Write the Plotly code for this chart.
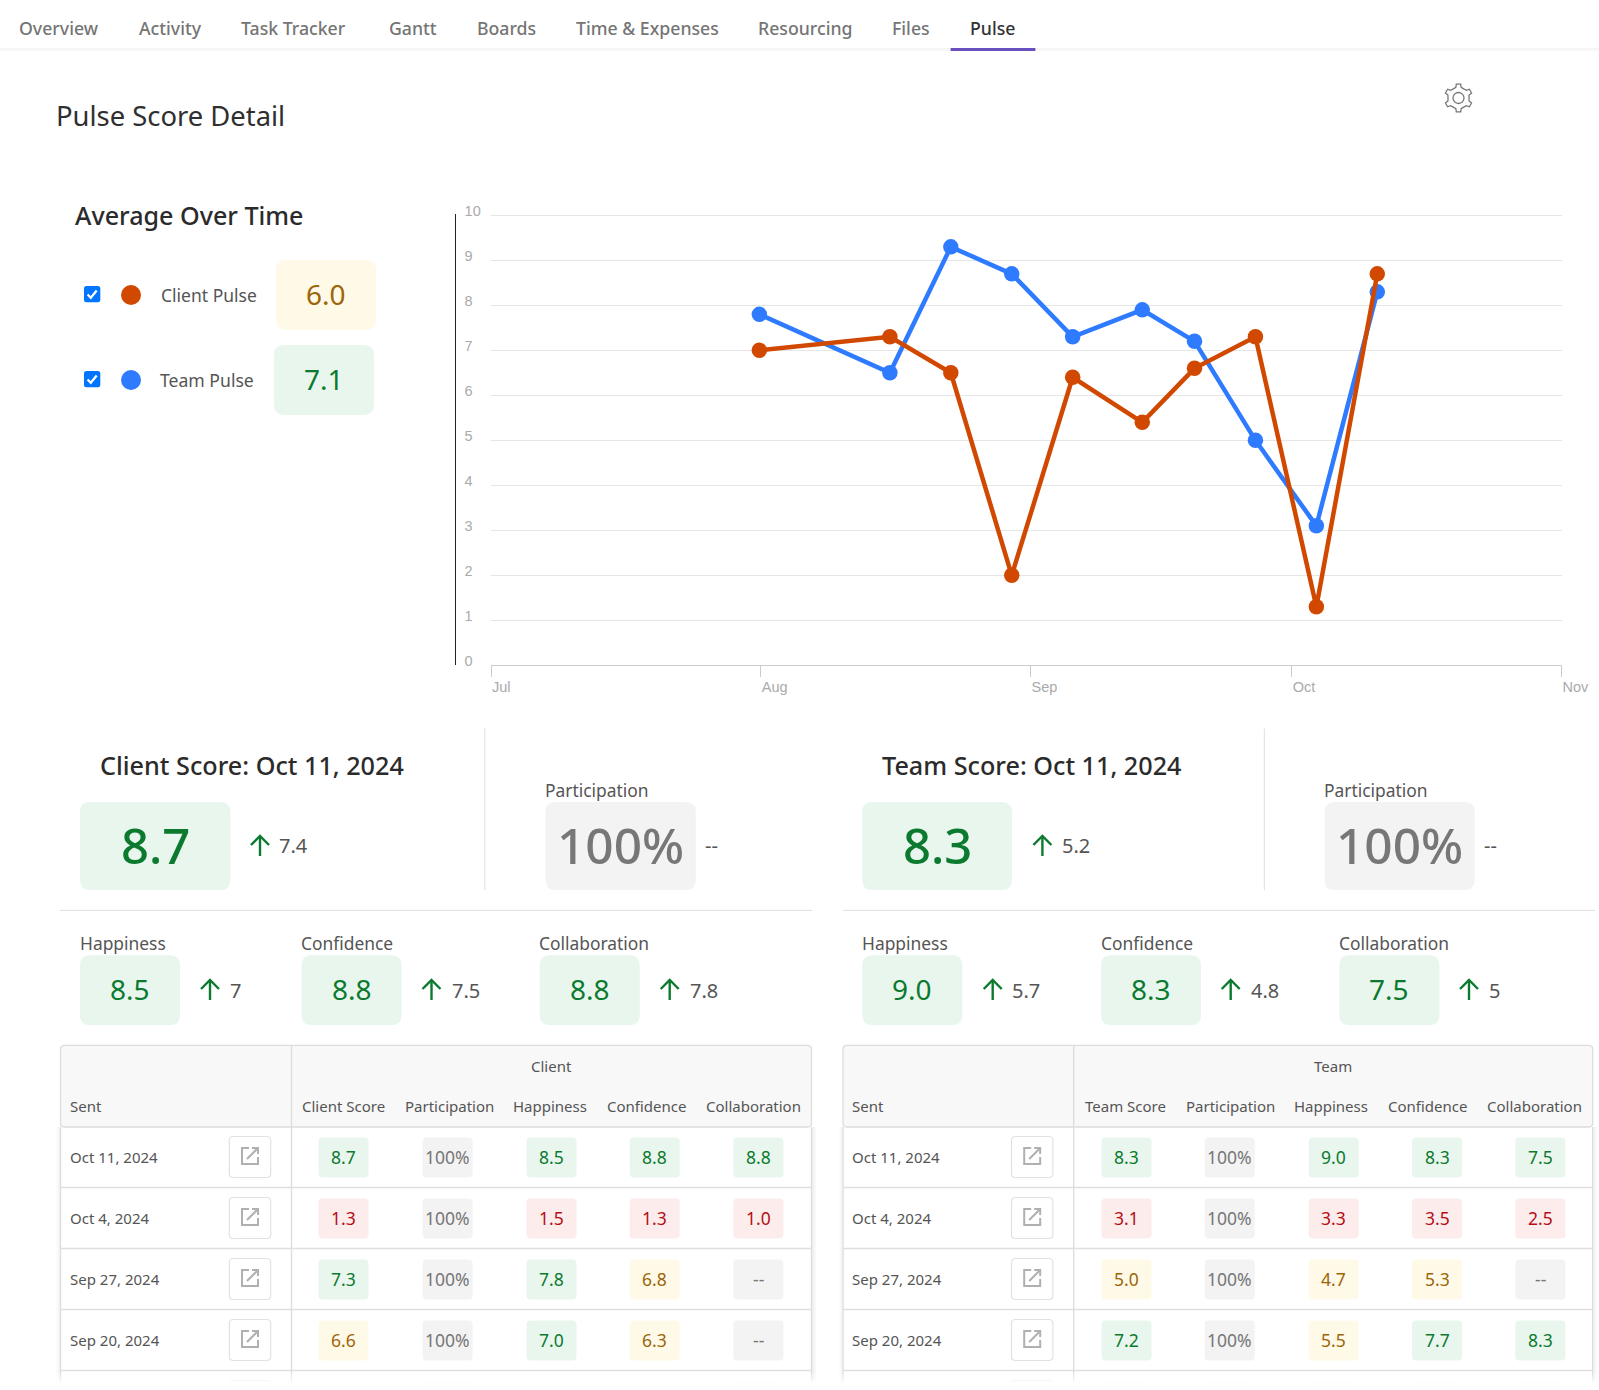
import math

import plotly.graph_objects as go

W = 1599
H = 1390
FONT = "Noto Sans"

# chart data (points sit a few hours before midnight of the send date)
pulse_dates = ["2024-07-31 20:00", "2024-08-15 20:00", "2024-08-22 20:00", "2024-08-29 20:00",
               "2024-09-05 20:00", "2024-09-13 20:00", "2024-09-19 20:00", "2024-09-26 20:00",
               "2024-10-03 20:00", "2024-10-10 20:00"]
team_pulse = [7.8, 6.5, 9.3, 8.7, 7.3, 7.9, 7.2, 5.0, 3.1, 8.3]
client_pulse = [7.0, 7.3, 6.5, 2.0, 6.4, 5.4, 6.6, 7.3, 1.3, 8.7]
y_ticks = [0, 1, 2, 3, 4, 5, 6, 7, 8, 9, 10]

tabs = ["Overview", "Activity", "Task Tracker", "Gantt", "Boards",
        "Time & Expenses", "Resourcing", "Files", "Pulse"]
tab_x = [19.4, 138.9, 241, 389, 476.9, 575.9, 758.7, 892.4, 970]

# averages
client_average = 6.0
team_average = 7.1

# score cards
client_score = (8.7, 7.4)
team_score = (8.3, 5.2)
client_parts = [("Happiness", 8.5, "7"), ("Confidence", 8.8, "7.5"), ("Collaboration", 8.8, "7.8")]
team_parts = [("Happiness", 9.0, "5.7"), ("Confidence", 8.3, "4.8"), ("Collaboration", 7.5, "5")]

# tables
sent_dates = ["Oct 11, 2024", "Oct 4, 2024", "Sep 27, 2024", "Sep 20, 2024"]
client_rows = [
    ["8.7", "100%", "8.5", "8.8", "8.8"],
    ["1.3", "100%", "1.5", "1.3", "1.0"],
    ["7.3", "100%", "7.8", "6.8", "--"],
    ["6.6", "100%", "7.0", "6.3", "--"],
]
team_rows = [
    ["8.3", "100%", "9.0", "8.3", "7.5"],
    ["3.1", "100%", "3.3", "3.5", "2.5"],
    ["5.0", "100%", "4.7", "5.3", "--"],
    ["7.2", "100%", "5.5", "7.7", "8.3"],
]
client_columns = ["Client Score", "Participation", "Happiness", "Confidence", "Collaboration"]
team_columns = ["Team Score", "Participation", "Happiness", "Confidence", "Collaboration"]
# only the tops of the next row are visible, so just their colours are known
client_next_row = ["yellow", "gray", "yellow", "yellow", "gray"]
team_next_row = ["green", "green", "green", "green", "green"]

COLORS = {
    "green": ("#e9f6ee", "#0b7a2e"),
    "yellow": ("#fff9e8", "#9c6508"),
    "red": ("#fcecec", "#b40f17"),
    "gray": ("#f3f3f3", "#777777"),
}
ORANGE = "#d14900"
BLUE = "#2f7bff"
TEXT = "#555555"
LINE = "#dfdfdf"

shapes = []
notes = []


def px(x):
    return x / W


def py(y):
    return 1 - y / H


def band(value):
    try:
        v = float(value)
    except ValueError:
        return "gray"
    if v >= 7:
        return "green"
    if v >= 4:
        return "yellow"
    return "red"


def text(x, y, s, size=15, color=TEXT, anchor="left", weight=400):
    # small nudge: annotation boxes sit a little low and right of the measured spots
    x = x - (1.4 if anchor == "left" else 0)
    notes.append(dict(x=px(x), y=py(y - 1), xref="paper", yref="paper", text=s, showarrow=False,
                      xanchor=anchor, yanchor="middle", borderpad=0,
                      font=dict(family=FONT, size=size, color=color, weight=weight)))


def path_shape(d, fill=None, line=None, width=1, layer="below"):
    s = dict(type="path", path=d, xref="paper", yref="paper", layer=layer,
             line=dict(color=line or "rgba(0,0,0,0)", width=width if line else 0))
    if fill:
        s["fillcolor"] = fill
    shapes.append(s)


def pt(x, y):
    return f"{px(x):.6f},{py(y):.6f}"


def round_rect(x0, y0, x1, y1, r, fill=None, line=None, width=1, layer="below"):
    d = (f"M{pt(x0 + r, y0)} L{pt(x1 - r, y0)} Q{pt(x1, y0)} {pt(x1, y0 + r)} "
         f"L{pt(x1, y1 - r)} Q{pt(x1, y1)} {pt(x1 - r, y1)} L{pt(x0 + r, y1)} "
         f"Q{pt(x0, y1)} {pt(x0, y1 - r)} L{pt(x0, y0 + r)} Q{pt(x0, y0)} {pt(x0 + r, y0)} Z")
    path_shape(d, fill, line, width, layer)


def seg(x0, y0, x1, y1, color=LINE, width=1, layer="below"):
    shapes.append(dict(type="line", x0=px(x0), x1=px(x1), y0=py(y0), y1=py(y1), xref="paper",
                       yref="paper", layer=layer, line=dict(color=color, width=width)))


def rect(x0, y0, x1, y1, fill, layer="below"):
    shapes.append(dict(type="rect", x0=px(x0), x1=px(x1), y0=py(y0), y1=py(y1), xref="paper",
                       yref="paper", layer=layer, fillcolor=fill, line=dict(width=0)))


def circle(cx, cy, r, fill=None, line=None, width=1):
    shapes.append(dict(type="circle", x0=px(cx - r), x1=px(cx + r), y0=py(cy - r), y1=py(cy + r),
                       xref="paper", yref="paper", layer="below", fillcolor=fill or "rgba(0,0,0,0)",
                       line=dict(color=line or "rgba(0,0,0,0)", width=width if line else 0)))


def badge(x0, y0, w, h, value, size, radius=10, weight=400):
    bg, fg = COLORS[band(value)]
    round_rect(x0, y0, x0 + w, y0 + h, radius, fill=bg)
    text(x0 + w / 2, y0 + h / 2, value, size=size, color=fg, anchor="center", weight=weight)


def up_arrow(x, y0, y1):
    green = COLORS["green"][1]
    seg(x, y0, x, y1, green, 2.4)
    path_shape(f"M{pt(x - 9, y0 + 9)} L{pt(x, y0)} L{pt(x + 9, y0 + 9)}", line=green, width=2.4)


def link_icon(cx, cy):
    c = "#b0b0b0"
    path_shape(f"M{pt(cx - 1, cy - 8)} L{pt(cx - 8, cy - 8)} L{pt(cx - 8, cy + 8)} L{pt(cx + 8, cy + 8)} "
               f"L{pt(cx + 8, cy + 1)}", line=c, width=2)
    path_shape(f"M{pt(cx - 3, cy + 3)} L{pt(cx + 8, cy - 8)}", line=c, width=2)
    path_shape(f"M{pt(cx + 2, cy - 8)} L{pt(cx + 8, cy - 8)} L{pt(cx + 8, cy - 2)}", line=c, width=2)


def gear(cx, cy):
    points = []
    for i in range(6):
        a = math.radians(60 * i - 90)
        for da, r in [(-30, 10.5), (-14, 11), (-9, 14), (9, 14), (14, 11)]:
            b = a + math.radians(da)
            points.append(pt(cx + r * math.cos(b), cy + r * math.sin(b)))
    path_shape("M" + " L".join(points) + " Z", line="#777777", width=1.3)
    circle(cx, cy, 5.5, line="#777777", width=1.3)


def checkbox(x, y):
    round_rect(x, y, x + 16.3, y + 16.3, 2.5, fill="#0075ff")
    path_shape(f"M{pt(x + 3.6, y + 8.5)} L{pt(x + 6.8, y + 11.8)} L{pt(x + 12.7, y + 4.6)}",
               line="white", width=2.3)


def score_block(score, parts, title, x):
    text(x["title"], 766, title, size=25.2, color="#2b2b2b", weight=500)
    badge(x["big"], 802, x["big_w"], 88, f"{score[0]:.1f}", 49, weight=500)
    up_arrow(x["arrow"], 836, 856)
    text(x["delta"], 846, f"{score[1]:.1f}", size=20)
    seg(x["divider"], 728.5, x["divider"], 890)
    text(x["part"], 791, "Participation", size=17.4)
    badge(x["part"], 802, x["part_w"], 88, "100%", 49.5, weight=500)
    text(x["part"] + x["part_w"] + 10, 847, "--", size=20)
    seg(x["rule0"], 910.4, x["rule1"], 910.4)
    for (name, value, delta), bx, ax, dx in zip(parts, x["parts"], x["part_arrows"], x["part_deltas"]):
        text(bx, 943.6, name, size=17.4)
        badge(bx, 955.2, 100, 70, f"{value:.1f}", 28)
        up_arrow(ax, 980, 1000)
        text(dx, 991, delta, size=20)


def table(columns, group, rows, next_row, x):
    left, split, right = x["left"], x["split"], x["right"]
    # soft shadow along the table body
    for i in range(1, 5):
        seg(left - i, 1127, left - i, H, f"rgba(0,0,0,{0.05 - i * 0.01:.2f})")
        seg(right + i, 1127, right + i, H, f"rgba(0,0,0,{0.07 - i * 0.012:.3f})")
    round_rect(left, 1045.3, right, 1127, 4, fill="#f8f8f8", line="#dcdcdc", width=1.3)
    seg(split, 1045.3, split, H, "#dcdcdc", 1.3)
    seg(left, 1127, left, H, "#dcdcdc", 1.3)
    seg(right, 1127, right, H, "#dcdcdc", 1.3)
    text(x["sent"], 1107, "Sent", size=15)
    text(x["group"], 1066.6, group, size=15, anchor="center")
    for name, cx in zip(columns, x["heads"]):
        text(cx, 1107, name, size=15, anchor="center")
    for i, (date, row) in enumerate(zip(sent_dates, rows)):
        top = 1126.5 + i * 61
        seg(left, top + 61, right, top + 61, "#dfdfdf", 1.3)
        text(x["sent"], top + 31, date, size=15)
        round_rect(x["button"], top + 10, x["button"] + 41.4, top + 51, 4, fill="white", line="#e2e2e2", width=1.2)
        link_icon(x["button"] + 20.7, top + 29.5)
        for value, cx in zip(row, x["cells"]):
            badge(cx - 25, top + 11, 50, 40, value, 17.5, radius=4)
    # last row is cut by the page fold
    top = 1126.5 + 4 * 61
    round_rect(x["button"], top + 10, x["button"] + 41.4, top + 51, 4, fill="white", line="#e2e2e2", width=1.2)
    for name, cx in zip(next_row, x["cells"]):
        round_rect(cx - 25, top + 11, cx + 25, top + 51, 4, fill=COLORS[name][0])


# nav bar
rect(0, 48, W, 50.5, "#f5f5f5")
for label, x in zip(tabs, tab_x):
    active = label == "Pulse"
    text(x, 28.8, label, size=17.7, color="#333333" if active else "#757575", weight=500)
rect(950.6, 48, 1035.4, 51, "#6a4fc0")

text(56, 117, "Pulse Score Detail", size=27.4, color="#2f2f2f")
gear(1458.5, 98)

# legend block
text(75, 216, "Average Over Time", size=25.1, color="#2b2b2b", weight=500)
checkbox(84, 286)
checkbox(84, 371)
circle(131, 295, 10, fill=ORANGE)
circle(131, 380, 10, fill=BLUE)
text(161, 296.4, "Client Pulse", size=17.5)
text(160.7, 381.4, "Team Pulse", size=17.6)
badge(276, 260, 100, 70, f"{client_average:.1f}", 28)
badge(274, 345, 100, 70, f"{team_average:.1f}", 28)

score_block(client_score, client_parts, "Client Score: Oct 11, 2024", dict(
    title=100, big=80, big_w=150.4, arrow=260, delta=279.6, divider=484.8, part=545.5, part_w=150.3,
    rule0=60, rule1=812, parts=[80, 301.6, 539.8], part_arrows=[210, 431.5, 669.7], part_deltas=[230, 452, 690]))
score_block(team_score, team_parts, "Team Score: Oct 11, 2024", dict(
    title=882.2, big=862.3, big_w=149.7, arrow=1042.4, delta=1062.3, divider=1264.3, part=1324.5, part_w=150.2,
    rule0=843, rule1=1595, parts=[862.3, 1101, 1339.4], part_arrows=[992.7, 1230.7, 1469],
    part_deltas=[1012.5, 1251.3, 1489.6]))

table(client_columns, "Client", client_rows, client_next_row, dict(
    left=60.5, split=291.5, right=811.5, sent=70.6, group=551, button=229.3,
    heads=[343, 449, 550, 646.6, 753.4], cells=[343.5, 447.6, 551.5, 654.7, 758.4]))
table(team_columns, "Team", team_rows, team_next_row, dict(
    left=843, split=1073.7, right=1592.7, sent=852.8, group=1333.4, button=1011.5,
    heads=[1125, 1230.4, 1331.4, 1427.5, 1534.4], cells=[1126.5, 1229.7, 1333.7, 1437, 1540.4]))

# fade at the page fold
for y in range(1371, H):
    rect(0, y, W, y + 1, f"rgba(255,255,255,{min(1, (y - 1371) / 13):.2f})", layer="above")

fig = go.Figure()
fig.add_trace(go.Scatter(x=pulse_dates, y=team_pulse, name="Team Pulse", mode="lines+markers",
                         line=dict(color=BLUE, width=4.5), marker=dict(color=BLUE, size=15.5)))
fig.add_trace(go.Scatter(x=pulse_dates, y=client_pulse, name="Client Pulse", mode="lines+markers",
                         line=dict(color=ORANGE, width=4.5), marker=dict(color=ORANGE, size=15.5)))

fig.update_layout(
    width=W, height=H, margin=dict(l=0, r=0, t=0, b=0, autoexpand=False), showlegend=False,
    paper_bgcolor="white", plot_bgcolor="white", shapes=shapes, annotations=notes,
    xaxis=dict(domain=[px(491), px(1561.5)], range=["2024-07-01", "2024-11-01"], type="date",
               dtick="M1", tickformat="%b", ticks="outside", ticklen=11, tickcolor="#cccccc",
               tickwidth=1, showline=True, linecolor="#cccccc", linewidth=1, showgrid=False,
               ticklabelposition="outside right", ticklabelstandoff=8, anchor="y", automargin=False,
               tickfont=dict(family="Liberation Sans", size=14.5, color="#aaaaaa")),
    # the range runs a hair past 10 so the top gridline is not dropped at the plot edge
    yaxis=dict(domain=[py(665.3), py(213.8)], range=[0, 10.035], tickvals=y_ticks, side="right",
               anchor="free", position=px(454.7), showline=True, linecolor="#222222", linewidth=1,
               ticks="", ticklabelstandoff=6, ticklabelshift=-4, gridcolor="#e6e6e6", gridwidth=1,
               zeroline=False, automargin=False,
               tickfont=dict(family="Liberation Sans", size=14.5, color="#aaaaaa")),
)

fig.write_html("out.html", post_script="document.body.style.margin='0';",
               config={"displayModeBar": False})
